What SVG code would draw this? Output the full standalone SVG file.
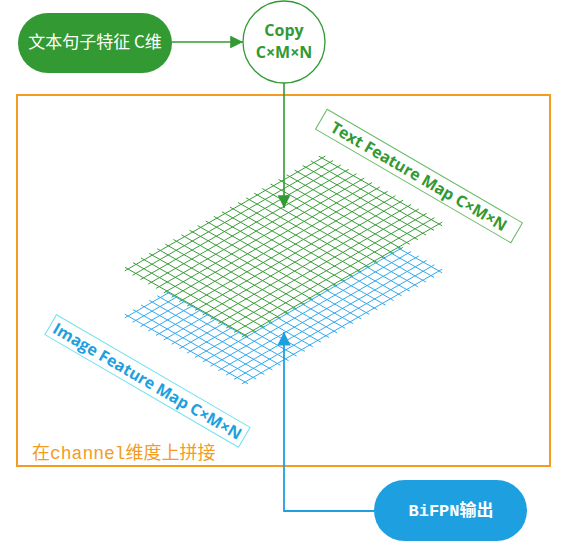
<svg xmlns="http://www.w3.org/2000/svg" width="565" height="557" viewBox="0 0 565 557">
<defs>
<style>
.gl{fill:none;stroke-width:1;vector-effect:non-scaling-stroke}
.green{stroke:#3a9e3a}
.blue{stroke:#33a9ee}
.cjk{font-family:"Noto Sans CJK SC","Noto Sans",sans-serif}
.lat{font-family:"Open Sans","Noto Sans",sans-serif;font-weight:bold}
.ser{font-family:"Liberation Mono","Noto Sans CJK SC",monospace}
</style>
<marker id="ag" viewBox="0 0 10 10" refX="10" refY="5" markerWidth="8" markerHeight="8" orient="auto" markerUnits="strokeWidth"><path d="M0,0L10,5L0,10Z" fill="#339933"/></marker>
<marker id="ab" viewBox="0 0 10 10" refX="10" refY="5" markerWidth="7.5" markerHeight="7.5" orient="auto" markerUnits="strokeWidth"><path d="M0,0L10,5L0,10Z" fill="#1e9fdf"/></marker>
</defs>
<rect width="565" height="557" fill="#ffffff"/>

<g id="concat-frame">
<rect x="17" y="95" width="533" height="371" fill="none" stroke="#f39c1f" stroke-width="2"/>
<text x="32" y="459" class="ser" font-size="18" fill="#f39c1f">在channel维度上拼接</text>
</g>

<g id="image-feature-map">
<g transform="matrix(8.0833 -4.625 7.8 4.4 128 316)">
<path class="gl blue" d="M0,-0.4V15.4M1,-0.4V15.4M2,-0.4V15.4M3,-0.4V15.4M4,-0.4V15.4M5,-0.4V15.4M6,-0.4V15.4M7,-0.4V15.4M8,-0.4V15.4M9,-0.4V15.4M10,-0.4V15.4M11,-0.4V15.4M12,-0.4V15.4M13,-0.4V15.4M14,-0.4V15.4M15,-0.4V15.4M16,-0.4V15.4M17,-0.4V15.4M18,-0.4V15.4M19,-0.4V15.4M20,-0.4V15.4M21,-0.4V15.4M22,-0.4V15.4M23,-0.4V15.4M24,-0.4V15.4M-0.4,0H24.4M-0.4,1H24.4M-0.4,2H24.4M-0.4,3H24.4M-0.4,4H24.4M-0.4,5H24.4M-0.4,6H24.4M-0.4,7H24.4M-0.4,8H24.4M-0.4,9H24.4M-0.4,10H24.4M-0.4,11H24.4M-0.4,12H24.4M-0.4,13H24.4M-0.4,14H24.4M-0.4,15H24.4"/>
</g>
<g transform="translate(147.5 381) rotate(30.2)">
<rect x="-112" y="-11.5" width="224" height="23" fill="none" stroke="#6fe3f0" stroke-width="1"/>
<text x="0" y="6" text-anchor="middle" class="lat" font-size="16" fill="#1e9fdf">Image Feature Map C×M×N</text>
</g>
</g>

<g id="text-feature-map">
<g transform="matrix(8.0833 -4.625 7.8 4.4 128 269)">
<path d="M0,0H24V15H0Z" fill="#ffffff"/>
<path class="gl green" d="M0,-0.4V15.4M1,-0.4V15.4M2,-0.4V15.4M3,-0.4V15.4M4,-0.4V15.4M5,-0.4V15.4M6,-0.4V15.4M7,-0.4V15.4M8,-0.4V15.4M9,-0.4V15.4M10,-0.4V15.4M11,-0.4V15.4M12,-0.4V15.4M13,-0.4V15.4M14,-0.4V15.4M15,-0.4V15.4M16,-0.4V15.4M17,-0.4V15.4M18,-0.4V15.4M19,-0.4V15.4M20,-0.4V15.4M21,-0.4V15.4M22,-0.4V15.4M23,-0.4V15.4M24,-0.4V15.4M-0.4,0H24.4M-0.4,1H24.4M-0.4,2H24.4M-0.4,3H24.4M-0.4,4H24.4M-0.4,5H24.4M-0.4,6H24.4M-0.4,7H24.4M-0.4,8H24.4M-0.4,9H24.4M-0.4,10H24.4M-0.4,11H24.4M-0.4,12H24.4M-0.4,13H24.4M-0.4,14H24.4M-0.4,15H24.4"/>
</g>
<g transform="translate(419 176) rotate(30.2)">
<rect x="-113" y="-11.5" width="226" height="23" fill="none" stroke="#66bb66" stroke-width="1"/>
<text x="0" y="6" text-anchor="middle" class="lat" font-size="16" fill="#339933">Text Feature Map C×M×N</text>
</g>
</g>

<g id="connectors">
<path d="M172,42H243" stroke="#339933" stroke-width="1.6" fill="none" marker-end="url(#ag)"/>
<path d="M284,83V208" stroke="#339933" stroke-width="1.6" fill="none" marker-end="url(#ag)"/>
<path d="M374,511H284V332" stroke="#1e9fdf" stroke-width="1.8" fill="none" marker-end="url(#ab)"/>
</g>

<g id="text-sentence-feature">
<rect x="18" y="13" width="154" height="60" rx="30" fill="#339933"/>
<text x="95" y="48" text-anchor="middle" class="cjk" font-size="17" fill="#ffffff">文本句子特征 C维</text>
</g>

<g id="copy">
<circle cx="284" cy="42" r="41" fill="#ffffff" stroke="#339933" stroke-width="1.3"/>
<text x="284" y="36" text-anchor="middle" class="lat" font-size="16" fill="#339933">Copy</text>
<text x="284" y="58" text-anchor="middle" class="lat" font-size="16" fill="#339933">C×M×N</text>
</g>

<g id="bifpn-output">
<rect x="374" y="480" width="153" height="61" rx="30.5" fill="#1e9fdf"/>
<text x="451" y="516" text-anchor="middle" class="ser" font-size="17" font-weight="bold" fill="#ffffff">BiFPN输出</text>
</g>
</svg>
